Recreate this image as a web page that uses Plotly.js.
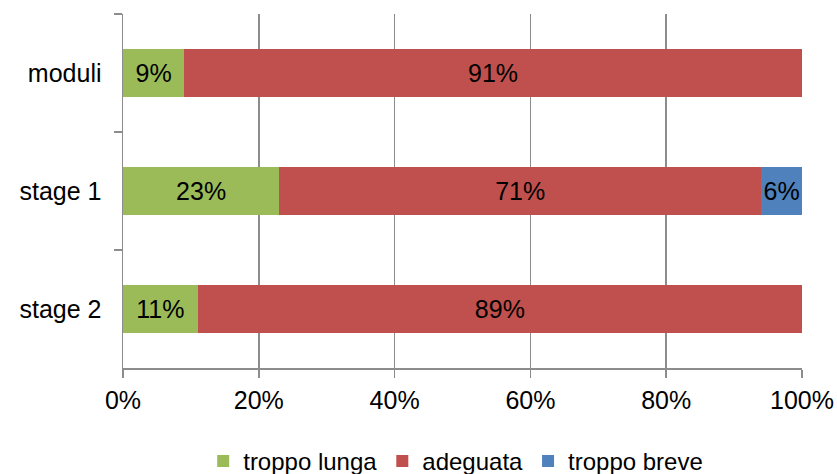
<!DOCTYPE html>
<html><head><meta charset="utf-8">
<script src="https://cdn.plot.ly/plotly-3.0.1.min.js"></script>
<style>body{margin:0;}#c{width:837px;height:474px;}</style>
</head><body><div id="c"></div>
<script>
const categories = ['moduli', 'stage 1', 'stage 2'];
const troppoLunga = [9, 23, 11];
const adeguata = [91, 71, 89];
const troppoBreve = [0, 6, 0];
const seriesNames = ['troppo lunga', 'adeguata', 'troppo breve'];
const seriesColors = ['#9BBB59', '#C0504D', '#4F81BD'];
const xTickVals = [0, 20, 40, 60, 80, 100];
const xTickText = ['0%', '20%', '40%', '60%', '80%', '100%'];

const FONT = 'Liberation Sans, Arial, Helvetica, sans-serif';
const all = [troppoLunga, adeguata, troppoBreve];
const traces = all.map((vals, i) => ({
  type: 'bar', orientation: 'h',
  name: seriesNames[i],
  y: categories, x: vals,
  text: vals.map(v => v > 0 ? v + '%' : ''),
  textposition: 'inside', insidetextanchor: 'middle',
  textangle: 0,
  constraintext: 'none',
  textfont: {size: 25, color: '#000', family: FONT},
  marker: {color: seriesColors[i], line: {width: 0}},
  width: 0.4,
  hoverinfo: 'none'
}));

const layout = {
  barmode: 'stack',
  width: 837, height: 474,
  margin: {l: 123, r: 35, t: 14, b: 106, autoexpand: false},
  paper_bgcolor: '#fff', plot_bgcolor: '#fff',
  font: {family: FONT, size: 25, color: '#000'},
  showlegend: true,
  legend: {orientation: 'h', x: 0.49, xanchor: 'center',
           yref: 'container', y: 0.074, yanchor: 'top',
           font: {size: 24}, itemwidth: 30, traceorder: 'normal', tracegroupgap: 0,
           borderwidth: 0},
  xaxis: {range: [0, 100], tickvals: xTickVals, ticktext: xTickText,
          showgrid: true, gridcolor: '#8c8c8c', gridwidth: 1.5,
          showline: true, linecolor: '#8c8c8c', linewidth: 1.5,
          ticks: 'outside', ticklen: 8, tickcolor: '#8c8c8c', tickwidth: 1.5,
          zeroline: false, fixedrange: true, ticklabelstandoff: 1, automargin: false},
  yaxis: {type: 'category', categoryorder: 'array', categoryarray: categories,
          autorange: 'reversed',
          showgrid: false, showline: true, linecolor: '#8c8c8c', linewidth: 1.5,
          ticks: 'outside', tickson: 'boundaries', ticklen: 8, tickcolor: '#8c8c8c', tickwidth: 1.5,
          ticklabelstandoff: 15, zeroline: false, fixedrange: true, automargin: false}
};
Plotly.newPlot('c', traces, layout, {displayModeBar: false, staticPlot: true});
</script></body></html>
